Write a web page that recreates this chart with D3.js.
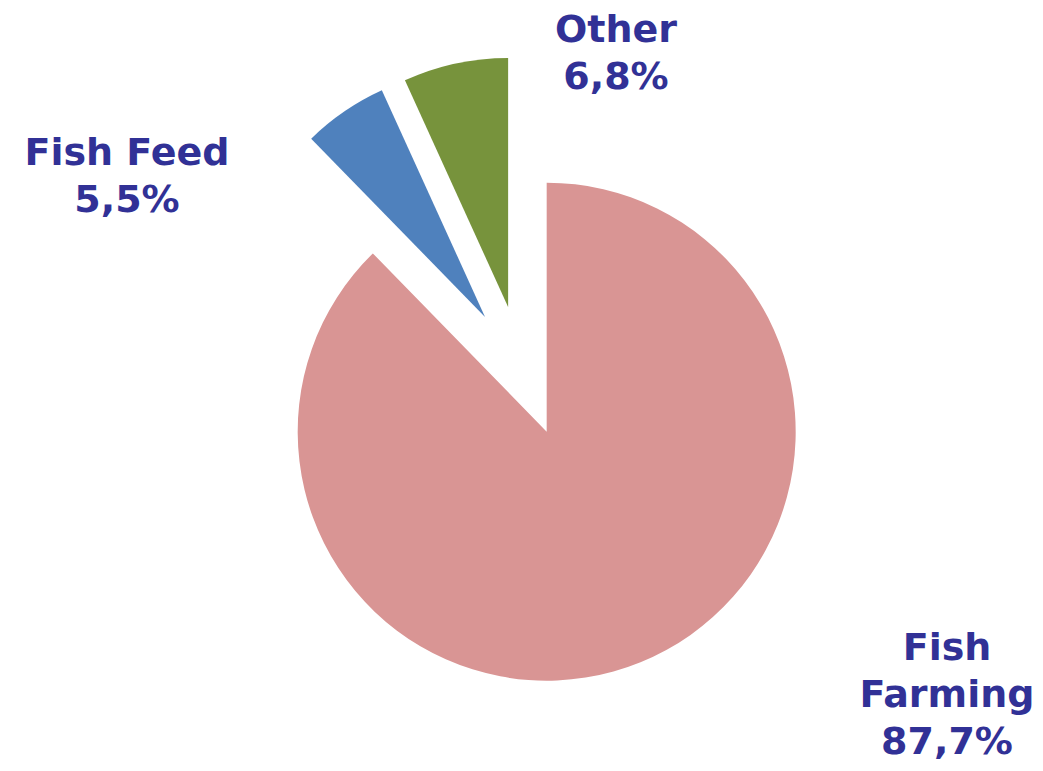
<!DOCTYPE html>
<html>
<head>
<meta charset="utf-8">
<script src="https://cdn.jsdelivr.net/npm/d3@7"></script>
<style>
  html, body { margin: 0; padding: 0; background: #ffffff; }
  svg { display: block; }
</style>
</head>
<body>
<div id="chart"></div>
<script>
// Shares of the total, in drawing order (clockwise from 12 o'clock)
const categories = ["Fish Farming", "Fish Feed", "Other"];
const shares = [87.7, 5.5, 6.8];
const labelLines = [["Fish", "Farming"], ["Fish Feed"], ["Other"]];
const colors = ["#d99594", "#4f81bd", "#77933c"];

const width = 1043, height = 771;
const center = { x: 522, y: 371 };
const radius = 249;
const explode = 65.5;

// Label anchors: centre x and first baseline of each text block
const labelAnchors = [
  { x: 947, y: 660 },
  { x: 127, y: 165 },
  { x: 616, y: 42 }
];
const lineHeight = 47;

const locale = d3.formatLocale({ decimal: ",", thousands: ".", grouping: [3], currency: ["", "€"] });
const fmt = locale.format(".1f");

const svg = d3.select("#chart").append("svg")
  .attr("width", width)
  .attr("height", height);

const pie = d3.pie().sort(null).value(d => d.value);
const arc = d3.arc().innerRadius(0).outerRadius(radius);

const data = categories.map((c, i) => ({ name: c, value: shares[i], color: colors[i], lines: labelLines[i] }));
const arcs = pie(data);

const g = svg.append("g").attr("transform", `translate(${center.x},${center.y})`);

// Every slice is pulled out along its bisector
g.selectAll("path.slice")
  .data(arcs)
  .join("path")
  .attr("class", "slice")
  .attr("fill", d => d.data.color)
  .attr("transform", d => {
    const mid = (d.startAngle + d.endAngle) / 2;
    return `translate(${Math.sin(mid) * explode},${-Math.cos(mid) * explode})`;
  })
  .attr("d", arc);

// Category labels with percentages
const labels = svg.selectAll("text.label")
  .data(arcs)
  .join("text")
  .attr("class", "label")
  .attr("text-anchor", "middle")
  .attr("font-family", "'DejaVu Sans', Verdana, sans-serif")
  .attr("font-weight", "bold")
  .attr("font-size", 38)
  .attr("fill", "#313196");

labels.each(function(d, i) {
  const t = d3.select(this);
  const lines = d.data.lines.concat([fmt(d.data.value) + "%"]);
  lines.forEach((line, k) => {
    t.append("tspan")
      .attr("x", labelAnchors[i].x)
      .attr("y", labelAnchors[i].y + k * lineHeight)
      .text(line);
  });
});
</script>
</body>
</html>
